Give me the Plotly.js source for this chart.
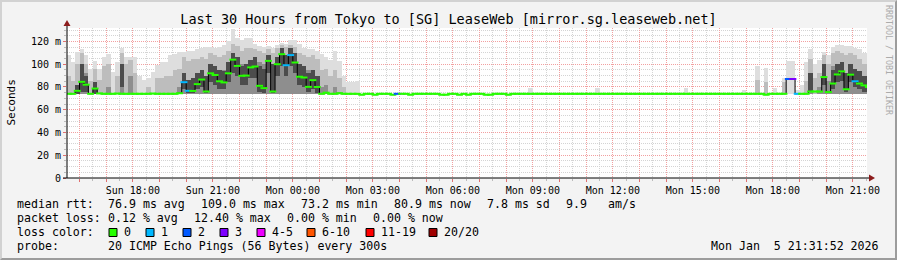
<!DOCTYPE html>
<html><head><meta charset="utf-8">
<script src="https://cdn.plot.ly/plotly-3.0.1.min.js"></script>
<style>
html,body{margin:0;padding:0;background:#f3f3f3;}
#wrap{position:relative;width:897px;height:260px;overflow:hidden;}
#chart{width:897px;height:260px;}
#frame{position:absolute;left:0;top:0;width:897px;height:260px;box-sizing:border-box;border-top:2px solid #d2d2d2;border-left:2px solid #d2d2d2;border-right:2px solid #9c9c9c;border-bottom:2px solid #9c9c9c;pointer-events:none;}
</style></head><body>
<div id="wrap"><div id="chart"></div><div id="frame"></div></div>
<script>
// ---------- data ----------
const chartTitle = 'Last 30 Hours from Tokyo to [SG] LeaseWeb [mirror.sg.leaseweb.net]';
const rangeStart = '2026-01-04 15:31:52';
const rangeEnd   = '2026-01-05 21:31:52';
const binStart = Date.UTC(2026, 0, 4, 15, 35, 0);   // centre of first 10-minute bin
const binStepMs = 600000;

// median RTT (ms) per 10-minute bin, bins 0..180
const medianRtt = [
 74.0,74.0,76.6,84.5,82.0,74.0,78.6,74.3,74.0,74.0,
 74.0,74.2,74.0,74.0,74.0,74.0,74.0,74.0,74.0,74.2,
 74.0,74.0,74.0,74.0,74.0,74.5,84.2,76.6,76.5,82.5,
 86.5,76.0,92.0,90.5,85.0,84.0,92.0,104.0,98.5,89.8,
 90.0,97.2,98.0,81.0,79.0,102.9,76.0,100.0,108.8,99.1,
 108.0,101.5,89.0,88.3,80.1,86.0,80.0,74.0,75.0,74.0,
 74.0,74.5,74.0,74.0,74.0,74.0,73.2,74.0,74.0,73.2,
 74.0,74.0,74.0,73.2,74.0,74.0,74.0,73.2,74.0,74.0,
 74.0,74.0,74.0,74.0,73.2,73.2,74.0,74.0,73.2,74.0,
 73.2,74.0,74.0,74.0,73.2,73.2,74.0,74.0,74.0,73.2,
 74.0,74.0,74.0,74.0,74.0,74.0,74.0,74.0,74.0,74.0,
 74.0,74.0,74.0,74.0,74.0,74.0,74.0,74.0,74.0,74.0,
 74.0,74.0,74.0,74.0,74.0,74.0,74.0,74.0,74.0,74.0,
 74.0,74.0,74.0,74.0,74.0,74.0,74.0,74.0,74.0,74.0,
 74.0,74.0,74.0,74.0,74.0,74.0,74.0,74.0,74.0,74.0,
 74.0,74.0,74.0,74.0,74.0,74.0,74.0,73.2,74.0,74.0,
 74.0,74.0,87.0,87.0,74.0,74.0,74.0,76.0,76.0,76.0,
 88.7,75.5,83.0,91.0,93.7,78.0,90.8,85.0,83.0,81.4,
 80.0
];

// bins with packet loss and the number of lost pings (of 20)
const lossBins   = [26, 27, 49, 50, 74, 162, 163, 164, 177];
const lossCounts = [1,  1,  1,  1,  2,  2,   3,   1,   1];

// smoke (spread of the 20 pings) per bin
const smokeBins = [
 0,1,2,3,4,5,6,7,8,9,10,11,12,13,14,15,16,17,18,19,20,21,22,23,24,25,26,27,28,29,
 30,31,32,33,34,35,36,37,38,39,40,41,42,43,44,45,46,47,48,49,50,51,52,53,54,55,56,57,58,59,
 60,61,62,63,64,65,104,119,139,152,155,157,159,161,162,163,164,165,166,167,168,169,170,
 171,172,173,174,175,176,177,178,179,180
];
const smokeMin = [
 73.5,73.5,73.5,73.5,73.5,73.5,73.5,73.5,73.5,73.5,73.5,73.5,73.5,73.5,73.5,73.5,73.5,73.5,73.5,73.5,
 73.5,73.5,73.5,73.5,73.5,73.5,73.5,73.5,73.5,73.5,73.5,73.5,73.5,73.5,73.5,73.5,73.5,74,74,74,
 74,74,74,74,74,74,74,74,74,74,74,74,74,74,74,74,74,73.5,73.5,73.5,
 73.5,73.5,73.5,73.5,73.5,73.5,73.5,73.5,73.5,73.5,73.5,73.5,73.5,73.5,74,74,73.5,73.5,73.5,73.5,
 73.5,73.5,73.5,73.5,73.5,73.5,73.5,73.5,73.5,73.5,73.5,73.5,73.5
];
const smokeDark = [
 null,null,80,100,92,null,82,null,null,80,null,null,95,null,90,null,null,null,null,null,
 null,null,null,null,null,80,90,85,88,90,95,88,100,98,95,95,100,110,106,100,
 100,104,105,102,100,108,100,106,112,108,112,108,100,98,95,95,90,80,82,null,
 80,null,null,null,null,null,null,null,null,null,null,null,null,null,null,null,null,null,null,90,
 null,80,100,85,98,100,100,92,98,95,92,88,88
];
const smokeMid = [
 90,85,100,110,100,85,96,86,98,100,null,90,110,100,104,92,null,null,80,null,
 88,88,90,90,95,96,106,103,105,105,106,105,110,108,106,108,112,118,116,112,
 114,114,113,112,110,113,110,114,117,115,117,115,110,108,106,108,105,95,96,90,
 95,88,80,null,null,null,null,null,null,null,86,84,null,84,null,null,null,null,85,105,
 88,92,108,100,110,112,110,108,110,108,105,100,100
];
const smokeMax = [
 108,102,111,113,108,96,103,96,106,109,93,102,114,106,106,106,90,86,88,93,
 99,102,102,108,109,111,111,112,112,113,114,115,115,114,115,117,120,131,123,121,
 123,123,118,116,115,116,114,117,119,118,121,121,118,114,113,113,112,109,106,104,
 112,103,90,84,84,85,79,79,79,77.5,98.6,97,79,88,102.5,102.5,77,82,102,113,
 100,104,111,108,115,117,117,116,116,114,113,110,110
];
// densest part of the smoke (around the median)
const coreBins = [2,3,4,6,12,26,27,28,29,30,31,32,33,34,35,36,37,38,39,40,41,42,43,44,45,46,47,48,49,50,
 51,52,53,54,55,56,167,170,172,173,174,175,176,177,178,179,180];
const coreLo = [74,76,76,74,80,78,75,75,78,80,75,84,82,78,78,84,92,90,82,82,88,88,76,75,92,75,90,98,90,98,
 92,82,80,76,78,75,76,82,78,84,85,76,84,80,78,76,76];
const coreHi = [82,100,90,84,100,92,86,88,92,95,90,100,98,95,94,102,110,106,98,100,104,106,98,96,108,100,106,114,108,114,
 110,100,98,92,95,90,92,100,95,100,102,92,100,96,94,90,90];

// loss colour legend
const lossLabels = ['0', '1', '2', '3', '4-5', '6-10', '11-19', '20/20'];
const lossUpper  = [0, 1, 2, 3, 5, 10, 19, 20];
const lossColors = ['#26ff00', '#00b8ff', '#0059ff', '#7e00ff', '#ee00ff', '#ff5500', '#ff0000', '#a00000'];

// axis ticks
const yTickVals = [0, 20, 40, 60, 80, 100, 120];
const yTickText = ['0', '20 m', '40 m', '60 m', '80 m', '100 m', '120 m'];
const xTickTimes = [
 '2026-01-04 16:00','2026-01-04 17:00','2026-01-04 18:00','2026-01-04 19:00','2026-01-04 20:00',
 '2026-01-04 21:00','2026-01-04 22:00','2026-01-04 23:00','2026-01-05 00:00','2026-01-05 01:00',
 '2026-01-05 02:00','2026-01-05 03:00','2026-01-05 04:00','2026-01-05 05:00','2026-01-05 06:00',
 '2026-01-05 07:00','2026-01-05 08:00','2026-01-05 09:00','2026-01-05 10:00','2026-01-05 11:00',
 '2026-01-05 12:00','2026-01-05 13:00','2026-01-05 14:00','2026-01-05 15:00','2026-01-05 16:00',
 '2026-01-05 17:00','2026-01-05 18:00','2026-01-05 19:00','2026-01-05 20:00','2026-01-05 21:00'
];
const xTickText = [
 '', '', 'Sun 18:00', '', '', 'Sun 21:00', '', '', 'Mon 00:00', '',
 '', 'Mon 03:00', '', '', 'Mon 06:00', '', '', 'Mon 09:00', '', '',
 'Mon 12:00', '', '', 'Mon 15:00', '', '', 'Mon 18:00', '', '', 'Mon 21:00'
];

// legend texts
const medianStats = ['76.9 ms avg', '109.0 ms max', '73.2 ms min', '80.9 ms now', '7.8 ms sd', '9.9', 'am/s'];
const lossStats   = ['0.12 % avg', '12.40 % max', '0.00 % min', '0.00 % now'];
const probeText   = '20 ICMP Echo Pings (56 Bytes) every 300s';
const stampText   = 'Mon Jan\u00a0\u00a05 21:31:52 2026';
const yTitle      = 'Seconds';
const sideText    = 'RRDTOOL / TOBI OETIKER';

// ---------- build ----------
const binTime = k => binStart + k * binStepMs;
const MONO = 'DejaVu Sans Mono, monospace';

function band(bins, lo, top, color) {
  const x = [], base = [], y = [];
  bins.forEach((k, i) => {
    if (top[i] != null) { x.push(binTime(k)); base.push(lo[i]); y.push(top[i] - lo[i]); }
  });
  return {type: 'bar', x, y, base, width: binStepMs,
    marker: {color, line: {width: 0}}, hoverinfo: 'skip', showlegend: false};
}

const medX = medianRtt.map((v, k) => binTime(k));
const medColors = medianRtt.map((v, k) => {
  const j = lossBins.indexOf(k);
  const lost = j >= 0 ? lossCounts[j] : 0;
  let c = 0; while (lost > lossUpper[c]) c++;
  return lossColors[c];
});

const traces = [
  band(smokeBins, smokeMin, smokeMax, '#dedede'),
  band(smokeBins, smokeMin, smokeMid, '#bdbdbd'),
  band(smokeBins, smokeMin, smokeDark, '#8e8e8e'),
  band(coreBins, coreLo, coreHi, '#4c4c4c'),
  {type: 'scatter', mode: 'lines', x: medX, y: medianRtt,
   line: {color: '#000000', width: 1, shape: 'hvh'}, hoverinfo: 'skip', showlegend: false},
  {type: 'scatter', mode: 'markers', x: medX, y: medianRtt,
   marker: {symbol: 'line-ew', size: 5, color: medColors, line: {width: 2, color: medColors}},
   hoverinfo: 'skip', showlegend: false}
];

// pixel helpers (plot area 67..867 x 28..178)
const L = 67, R = 867, T = 28, B = 178;
const px = x => (x - L) / (R - L);
const py = y => (B - y) / (B - T);

const shapes = [
  {type: 'line', xref: 'paper', yref: 'paper', x0: 0, x1: 0, y0: 0, y1: py(22), line: {color: '#000', width: 1}},
  {type: 'line', xref: 'paper', yref: 'paper', x0: px(63), x1: px(870), y0: 0, y1: 0, line: {color: '#000', width: 1}},
  {type: 'path', xref: 'paper', yref: 'paper',
   path: `M ${px(63.5)} ${py(26)} L ${px(70.5)} ${py(26)} L ${px(67)} ${py(20)} Z`,
   fillcolor: '#8c1c1c', line: {width: 0}},
  {type: 'path', xref: 'paper', yref: 'paper',
   path: `M ${px(869)} ${py(174.5)} L ${px(869)} ${py(181.5)} L ${px(875)} ${py(178)} Z`,
   fillcolor: '#8c1c1c', line: {width: 0}}
];

const ann = [];
function txt(x, y, text, opts) {
  ann.push(Object.assign({xref: 'paper', yref: 'paper', x: px(x), y: py(y), text, showarrow: false,
    xanchor: 'left', yanchor: 'middle', borderpad: 0,
    font: {family: MONO, size: 11.6, color: '#000'}}, opts || {}));
}
// line 1
txt(16, 204, 'median rtt:');
[107, 200, 300, 393, 486, 565, 607].forEach((x, i) => txt(x, 204, medianStats[i]));
// line 2
txt(16, 218, 'packet loss:');
[107, 193, 286, 372].forEach((x, i) => txt(x, 218, lossStats[i]));
// line 3
txt(16, 232, 'loss color:');
[109, 146, 183, 220, 257, 307, 366, 429].forEach((x, i) => {
  shapes.push({type: 'rect', xref: 'paper', yref: 'paper', x0: px(x), x1: px(x + 8), y0: py(236.5), y1: py(228.5),
    fillcolor: lossColors[i], line: {color: '#000', width: 1}});
  txt(x + 14, 232, lossLabels[i]);
});
// line 4
txt(16, 246, 'probe:');
txt(107, 246, probeText);
txt(880, 246, stampText, {xanchor: 'right'});
// y title and side text
txt(10.5, 103, yTitle, {xanchor: 'center', textangle: -90, font: {family: MONO, size: 11, color: '#000'}});
txt(889, 60, sideText, {xanchor: 'center', textangle: 90, font: {family: MONO, size: 8.3, color: '#ababab'}});

const layout = {
  width: 897, height: 260,
  margin: {l: L, r: 897 - R, t: T, b: 260 - B, pad: 0},
  paper_bgcolor: '#f3f3f3', plot_bgcolor: '#ffffff',
  barmode: 'overlay', bargap: 0, showlegend: false,
  font: {family: MONO, size: 10, color: '#000'},
  title: {text: chartTitle, font: {family: MONO, size: 13.5, color: '#000'},
          x: 0.5, xref: 'container', xanchor: 'center', y: 1 - 19 / 260, yref: 'container', yanchor: 'middle'},
  xaxis: {type: 'date', range: [rangeStart, rangeEnd], tickmode: 'array', tickvals: xTickTimes, ticktext: xTickText,
    showgrid: true, gridcolor: '#f2a0a0', griddash: '1px,1px', gridwidth: 1,
    ticks: 'outside', ticklen: 3, tickcolor: '#e07070', tickfont: {family: MONO, size: 10, color: '#000'},
    showline: false, zeroline: false, fixedrange: true,
    minor: {tickmode: 'linear', tick0: '2026-01-04 16:30', dtick: 1800000, showgrid: true, gridcolor: '#d4d4d4',
            griddash: '1px,1px', gridwidth: 1, ticks: 'outside', ticklen: 2, tickcolor: '#bbbbbb'}},
  yaxis: {range: [0, (B - T) / 1.138], tickmode: 'array', tickvals: yTickVals, ticktext: yTickText,
    showgrid: true, gridcolor: '#f2a0a0', griddash: '1px,1px', gridwidth: 1,
    ticks: 'outside', ticklen: 3, tickcolor: '#e07070', tickfont: {family: MONO, size: 10, color: '#000'},
    showline: false, zeroline: false, fixedrange: true,
    minor: {tickmode: 'linear', tick0: 0, dtick: 5, showgrid: true, gridcolor: '#d4d4d4',
            griddash: '1px,1px', gridwidth: 1, ticks: 'outside', ticklen: 2, tickcolor: '#bbbbbb'}},
  shapes, annotations: ann
};

Plotly.newPlot('chart', traces, layout, {staticPlot: true, displayModeBar: false});
</script></body></html>
